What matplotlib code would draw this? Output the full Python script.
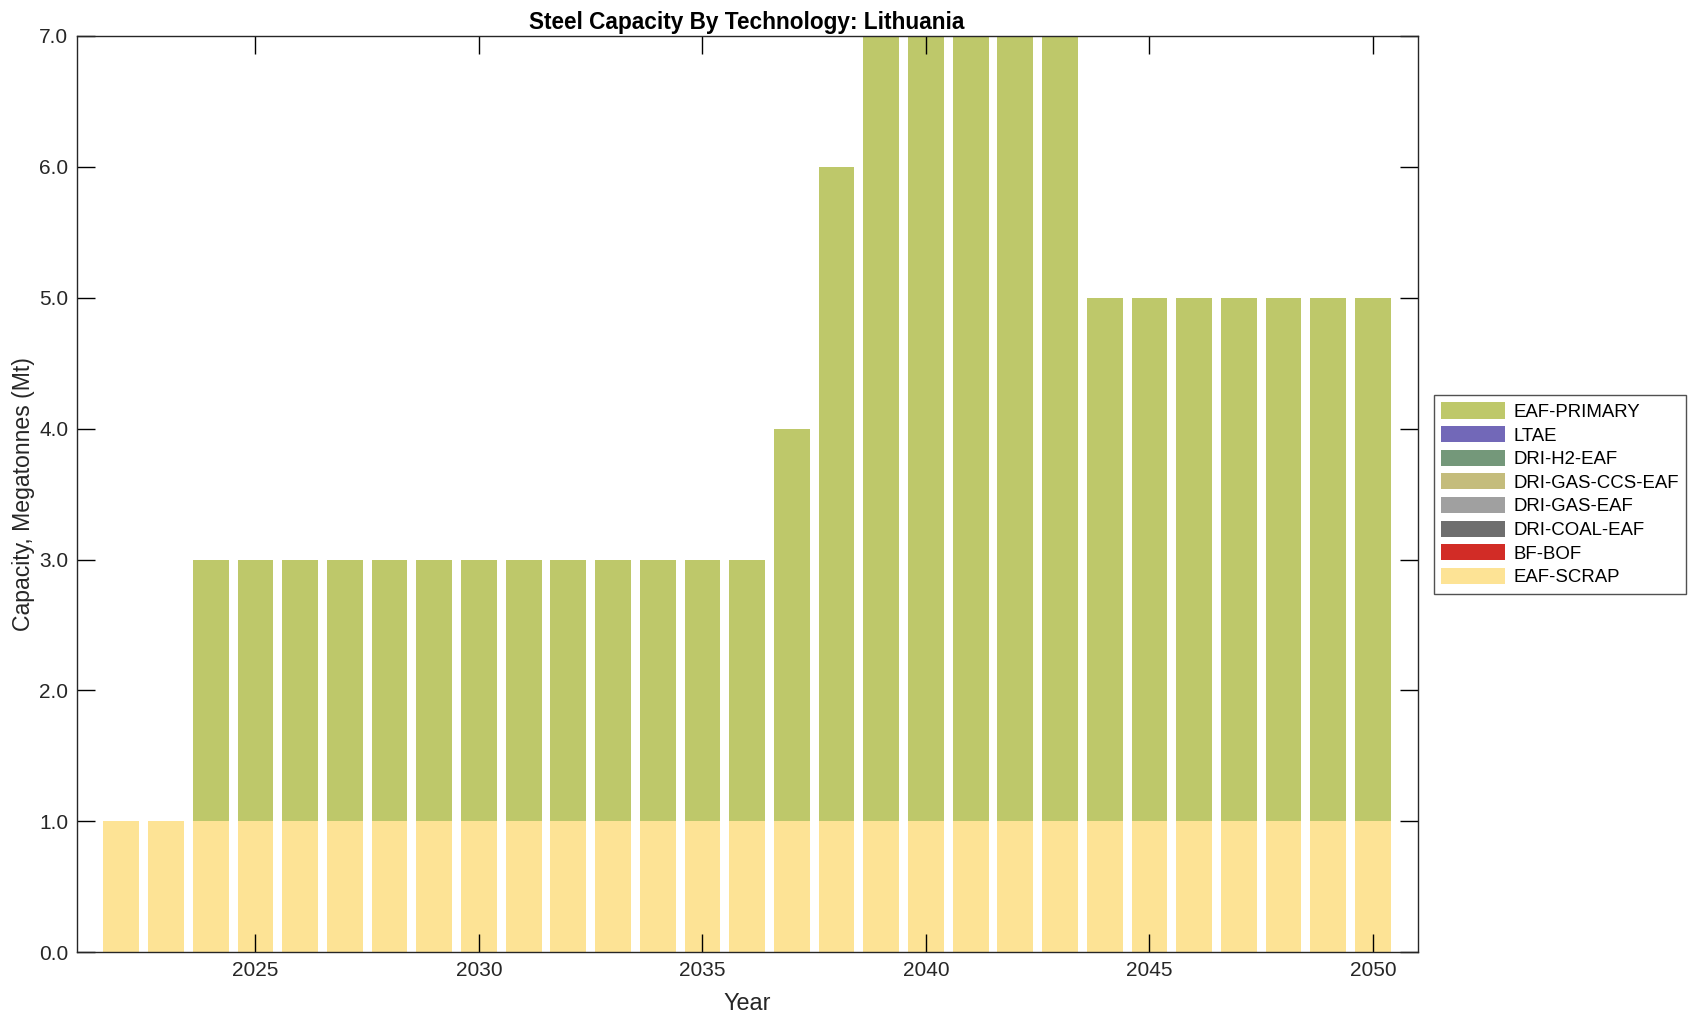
import numpy as np
import matplotlib
matplotlib.use("Agg")
import matplotlib.pyplot as plt
from matplotlib.patches import Patch

plt.rcParams['font.family'] = ['Liberation Sans', 'DejaVu Sans']

years = np.arange(2022, 2051)

# capacity by technology, Mt
eaf_scrap = [1] * 29
bf_bof = [0] * 29
dri_coal_eaf = [0] * 29
dri_gas_eaf = [0] * 29
dri_gas_ccs_eaf = [0] * 29
dri_h2_eaf = [0] * 29
ltae = [0] * 29
eaf_primary = [0, 0] + [2] * 13 + [3, 5] + [6] * 5 + [4] * 7

techs = ['EAF-SCRAP', 'BF-BOF', 'DRI-COAL-EAF', 'DRI-GAS-EAF',
         'DRI-GAS-CCS-EAF', 'DRI-H2-EAF', 'LTAE', 'EAF-PRIMARY']
series = [eaf_scrap, bf_bof, dri_coal_eaf, dri_gas_eaf,
          dri_gas_ccs_eaf, dri_h2_eaf, ltae, eaf_primary]
colors = ['#FDE395', '#D22C26', '#6E6E6E', '#A0A0A0',
          '#C4BC7C', '#74987A', '#7268B8', '#BEC86A']

fig = plt.figure(figsize=(16.96, 10.21), dpi=100)
ax = fig.add_axes([0.0452, 0.0673, 0.7907, 0.8975])

bottom = np.zeros(len(years))
for name, vals, col in zip(techs, series, colors):
    vals = np.array(vals, dtype=float)
    ax.bar(years, vals, width=0.8, bottom=bottom, color=col, linewidth=0)
    bottom += vals

ax.set_xlim(2021, 2051)
ax.set_ylim(0, 7)
ax.set_xticks(np.arange(2025, 2051, 5))
ax.set_yticks(np.arange(0, 8, 1))
ax.yaxis.set_major_formatter(matplotlib.ticker.FormatStrFormatter('%.1f'))
ax.tick_params(direction='in', length=13, width=1, top=True, right=True,
               labelsize=15, labelcolor='#262626', pad=6)
for s in ax.spines.values():
    s.set_linewidth(1)
    s.set_color('#262626')

ax.set_xlabel('Year', fontsize=16.8, color='#262626', labelpad=9)
ax.set_ylabel('Capacity, Megatonnes (Mt)', fontsize=16.6, color='#262626', labelpad=3)
ax.set_title('Steel Capacity By Technology: Lithuania', fontsize=16.3,
             fontweight='bold', color='black', pad=5)

handles = [Patch(facecolor=c, edgecolor='none', label=t)
           for t, c in zip(techs[::-1], colors[::-1])]
leg = fig.legend(handles=handles, loc='upper left',
                 bbox_to_anchor=(0.8455, 0.6131), bbox_transform=fig.transFigure,
                 borderaxespad=0, fontsize=13.4, frameon=True, fancybox=False,
                 handlelength=3.4, handleheight=0.95, handletextpad=0.45,
                 labelspacing=0.28, borderpad=0.4)
leg.get_frame().set_edgecolor('#262626')
leg.get_frame().set_linewidth(1)

fig.savefig('out.png', dpi=100)
